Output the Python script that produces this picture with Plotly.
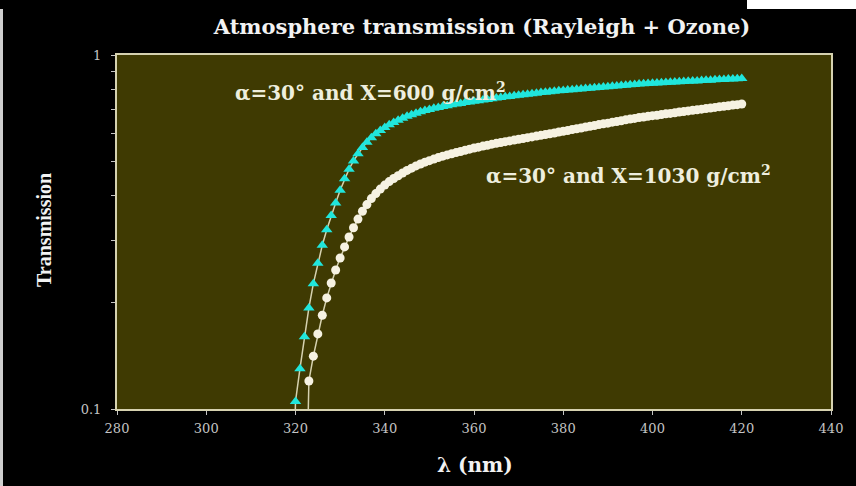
import plotly.graph_objects as go

wavelength_nm = [
    319, 320, 321, 322, 323, 324, 325, 326, 327, 328,
    329, 330, 331, 332, 333, 334, 335, 336, 337, 338,
    339, 340, 341, 342, 343, 344, 345, 346, 347, 348,
    349, 350, 351, 352, 353, 354, 355, 356, 357, 358,
    359, 360, 361, 362, 363, 364, 365, 366, 367, 368,
    369, 370, 371, 372, 373, 374, 375, 376, 377, 378,
    379, 380, 381, 382, 383, 384, 385, 386, 387, 388,
    389, 390, 391, 392, 393, 394, 395, 396, 397, 398,
    399, 400, 401, 402, 403, 404, 405, 406, 407, 408,
    409, 410, 411, 412, 413, 414, 415, 416, 417, 418,
    419, 420,
]

trans_x600 = [
    0.03, 0.105, 0.130, 0.160, 0.193, 0.226, 0.258, 0.290, 0.321, 0.352,
    0.382, 0.415, 0.447, 0.476, 0.502, 0.526, 0.548, 0.567, 0.584, 0.599,
    0.612, 0.624, 0.635, 0.645, 0.654, 0.663, 0.671, 0.678, 0.685, 0.691,
    0.697, 0.702, 0.707, 0.711, 0.715, 0.719, 0.723, 0.727, 0.730, 0.734,
    0.737, 0.740, 0.743, 0.746, 0.749, 0.752, 0.756, 0.759, 0.762, 0.764,
    0.767, 0.770, 0.772, 0.775, 0.777, 0.780, 0.783, 0.785, 0.788, 0.790,
    0.792, 0.794, 0.796, 0.798, 0.800, 0.802, 0.804, 0.806, 0.808, 0.810,
    0.812, 0.814, 0.816, 0.818, 0.820, 0.822, 0.824, 0.826, 0.828, 0.829,
    0.831, 0.832, 0.833, 0.835, 0.836, 0.837, 0.839, 0.840, 0.841, 0.843,
    0.844, 0.845, 0.847, 0.848, 0.849, 0.851, 0.852, 0.853, 0.855, 0.856,
    0.857, 0.858,
]

trans_x1030 = [
    None, None, None, 0.03, 0.120, 0.141, 0.163, 0.184, 0.206, 0.227,
    0.247, 0.267, 0.287, 0.306, 0.325, 0.344, 0.362, 0.378, 0.393, 0.406,
    0.418, 0.429, 0.439, 0.448, 0.456, 0.464, 0.472, 0.479, 0.486, 0.492,
    0.498, 0.503, 0.508, 0.513, 0.518, 0.522, 0.526, 0.530, 0.534, 0.538,
    0.542, 0.546, 0.549, 0.553, 0.556, 0.560, 0.563, 0.566, 0.569, 0.572,
    0.575, 0.578, 0.581, 0.584, 0.587, 0.590, 0.593, 0.596, 0.599, 0.602,
    0.606, 0.609, 0.612, 0.616, 0.619, 0.622, 0.626, 0.629, 0.632, 0.636,
    0.639, 0.642, 0.646, 0.649, 0.652, 0.656, 0.659, 0.662, 0.666, 0.668,
    0.671, 0.674, 0.676, 0.679, 0.682, 0.684, 0.687, 0.690, 0.692, 0.695,
    0.698, 0.700, 0.703, 0.706, 0.708, 0.711, 0.714, 0.716, 0.719, 0.722,
    0.724, 0.727,
]

x_ticks = [280, 300, 320, 340, 360, 380, 400, 420, 440]
y_major_ticks = [0.1, 1]
y_major_text = ["0.1", "1"]
y_minor_ticks = [0.2, 0.3, 0.4, 0.5, 0.6, 0.7, 0.8, 0.9]

title_text = "Atmosphere transmission (Rayleigh + Ozone)"
label_600 = "α=30° and X=600 g/cm<sup>2</sup>"
label_1030 = "α=30° and X=1030 g/cm<sup>2</sup>"

SERIF = "DejaVu Serif"
LINE_COL = "#d6d2b0"
TICK_COL = "#c4c4c4"

fig = go.Figure()
fig.add_trace(go.Scatter(
    x=wavelength_nm, y=trans_x1030, mode="lines+markers",
    line=dict(color=LINE_COL, width=1.5),
    marker=dict(symbol="circle", size=9, color="#f6f2e2", line=dict(width=0)),
    showlegend=False,
))
fig.add_trace(go.Scatter(
    x=wavelength_nm, y=trans_x600, mode="lines+markers",
    line=dict(color=LINE_COL, width=1.5),
    marker=dict(symbol="triangle-up", size=10, color="#20e6dc", line=dict(width=0)),
    showlegend=False,
))

fig.update_layout(
    width=856, height=486,
    margin=dict(l=117, r=25, t=55, b=77),
    paper_bgcolor="#000000",
    plot_bgcolor="#3f3a02",
    showlegend=False,
    title=dict(text=title_text, x=482 / 856, xanchor="center",
               y=1 - 27 / 486, yanchor="middle",
               font=dict(family=SERIF, size=21, color="#f2f2f2", weight="bold")),
)
fig.update_xaxes(
    range=[280, 440], tickvals=x_ticks, ticks="outside", ticklen=4,
    tickcolor=TICK_COL, ticklabelstandoff=2,
    tickfont=dict(family=SERIF, size=13, color=TICK_COL),
    showgrid=False, zeroline=False, showline=True, linecolor=LINE_COL,
    linewidth=2, mirror=True,
)
fig.update_yaxes(
    type="log", range=[-1, 0], tickvals=y_major_ticks, ticktext=y_major_text,
    ticks="outside", ticklen=4, tickcolor=TICK_COL, ticklabelstandoff=7,
    tickfont=dict(family=SERIF, size=13, color=TICK_COL),
    minor=dict(tickvals=y_minor_ticks, ticks="outside", ticklen=4, tickcolor=TICK_COL),
    showgrid=False, zeroline=False, showline=True, linecolor=LINE_COL,
    linewidth=2, mirror=True,
)

fig.add_annotation(x=336.9, y=-0.1045, xref="x", yref="y", text=label_600,
                   xanchor="center", yanchor="middle", showarrow=False,
                   font=dict(family=SERIF, size=20, color="#eeeede", weight="bold"))
fig.add_annotation(x=394.7, y=-0.339, xref="x", yref="y", text=label_1030,
                   xanchor="center", yanchor="middle", showarrow=False,
                   font=dict(family=SERIF, size=20, color="#eeeede", weight="bold"))
fig.add_annotation(x=(44 - 117) / 714, y=(409 - 230) / 354, xref="paper", yref="paper",
                   xanchor="center", yanchor="middle",
                   text="Transmission", textangle=-90, showarrow=False,
                   font=dict(family="Liberation Serif", size=20, color="#f2f2f2", weight="bold"))
fig.add_annotation(x=(475 - 117) / 714, y=(409 - 465) / 354, xref="paper", yref="paper",
                   xanchor="center", yanchor="middle",
                   text="λ (nm)", showarrow=False,
                   font=dict(family=SERIF, size=20, color="#f2f2f2", weight="bold"))

# white corner strip at top right and thin light strip at left edge
fig.add_shape(type="rect", xref="paper", yref="paper",
              x0=(747 - 117) / 714, x1=(860 - 117) / 714,
              y0=(409 - 9) / 354, y1=(409 + 5) / 354,
              fillcolor="#ffffff", line=dict(width=0), layer="above")
fig.add_shape(type="rect", xref="paper", yref="paper",
              x0=(-5 - 117) / 714, x1=(3 - 117) / 714,
              y0=(409 - 490) / 354, y1=(409 - 9) / 354,
              fillcolor="#cfcfcf", line=dict(width=0), layer="above")

fig.write_html("out.html", config={"displayModeBar": False},
               post_script="document.body.style.margin='0px';document.body.style.background='#000';")
